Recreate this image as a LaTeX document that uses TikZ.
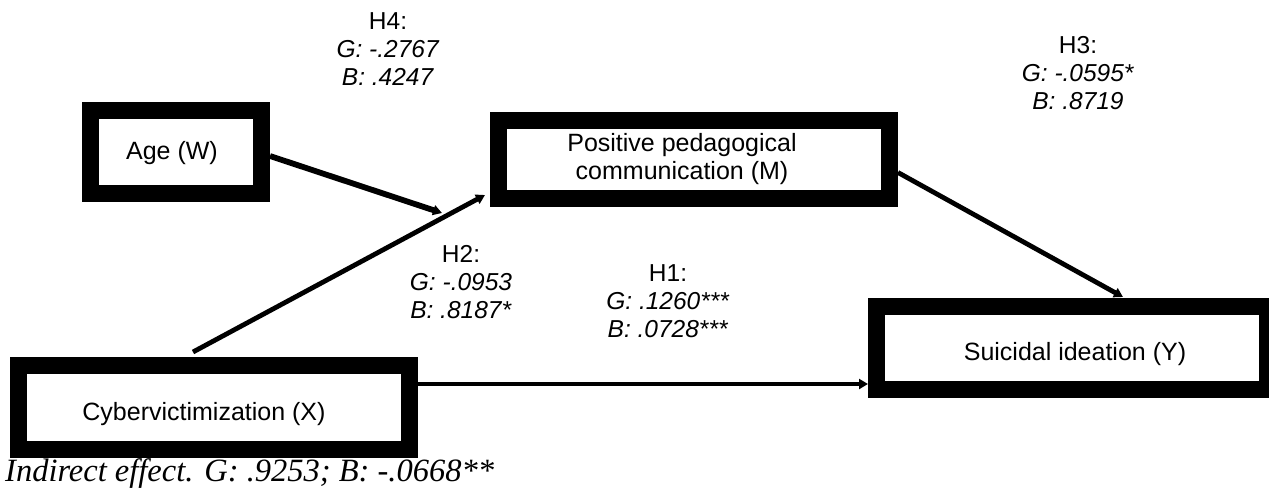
\documentclass[tikz,border=0pt]{standalone}
\usepackage{fontspec}
\setmainfont{Liberation Sans}
\newfontfamily\notefont{Liberation Serif}
\usetikzlibrary{arrows.meta,calc}

\begin{document}
\begin{tikzpicture}[x=1pt,y=-1pt,
  varbox/.style={draw=black, line width=17pt, inner sep=0pt, fill=white},
  boxtext/.style={font=\fontsize{25}{28}\selectfont, align=center, inner sep=0pt},
  coef/.style={font=\fontsize{24.5}{28}\selectfont, align=center, inner sep=0pt},
  effect/.style={draw=black, line width=4.8pt, -{Triangle[length=9pt,width=10pt]}},
  ]
\useasboundingbox (0,0) rectangle (1269,499);

% variable boxes
\node[varbox, minimum width=171pt, minimum height=83pt] (age)  at (176,152)   {};
\node[varbox, minimum width=391pt, minimum height=78pt] (mbox) at (694,159.5) {};
\node[varbox, minimum width=391pt, minimum height=84pt] (xbox) at (214,407.5) {};
\node[varbox, minimum width=391pt, minimum height=83pt] (ybox) at (1072,348)  {};

% box captions
\node[boxtext] (ageT) at (172,153) {Age (W)};
\node[boxtext] (mT)   at (682,159) {Positive pedagogical\\communication (M)};
\node[boxtext] (xT)   at (204,414) {Cybervictimization (X)};
\node[boxtext] (yT)   at (1075,354) {Suicidal ideation (Y)};

% connector end points
\coordinate (ageOut) at ([yshift=-4pt]age.east);
\coordinate (mod)    at (442,213);
\coordinate (xUp)    at ([xshift=-21pt,yshift=5pt]xbox.north);
\coordinate (mIn)    at ([xshift=-5pt,yshift=-35.5pt]mbox.west);
\coordinate (mOut)   at ([yshift=-13pt]mbox.east);
\coordinate (yIn)    at ([xshift=51pt,yshift=1pt]ybox.north);
\coordinate (xOut)   at ([yshift=23.5pt]xbox.east);
\coordinate (yLeft)  at ([yshift=-36pt]ybox.west);

% paths
\draw[effect, line width=5.8pt] (ageOut) -- (mod);
\draw[effect] (xUp) -- (mIn);
\draw[effect] (mOut) -- (yIn);
\draw[effect, line width=4.2pt] (xOut) -- (yLeft);

% coefficients
\node[coef] (h4) at (388,49)  {H4:\\\textit{G: -.2767}\\\textit{B: .4247}};
\node[coef] (h3) at (1078,73) {H3:\\\textit{G: -.0595*}\\\textit{B: .8719}};
\node[coef] (h2) at (461,282) {H2:\\\textit{G: -.0953}\\\textit{B: .8187*}};
\node[coef] (h1) at (668,301) {H1:\\\textit{G: .1260***}\\\textit{B: .0728***}};

% note
\node[anchor=base west, inner sep=0pt, font=\notefont\itshape\fontsize{32.5}{35}\selectfont] (note) at (5,481)
  {Indirect effect. G: .9253; B: -.0668**};
\end{tikzpicture}
\end{document}
